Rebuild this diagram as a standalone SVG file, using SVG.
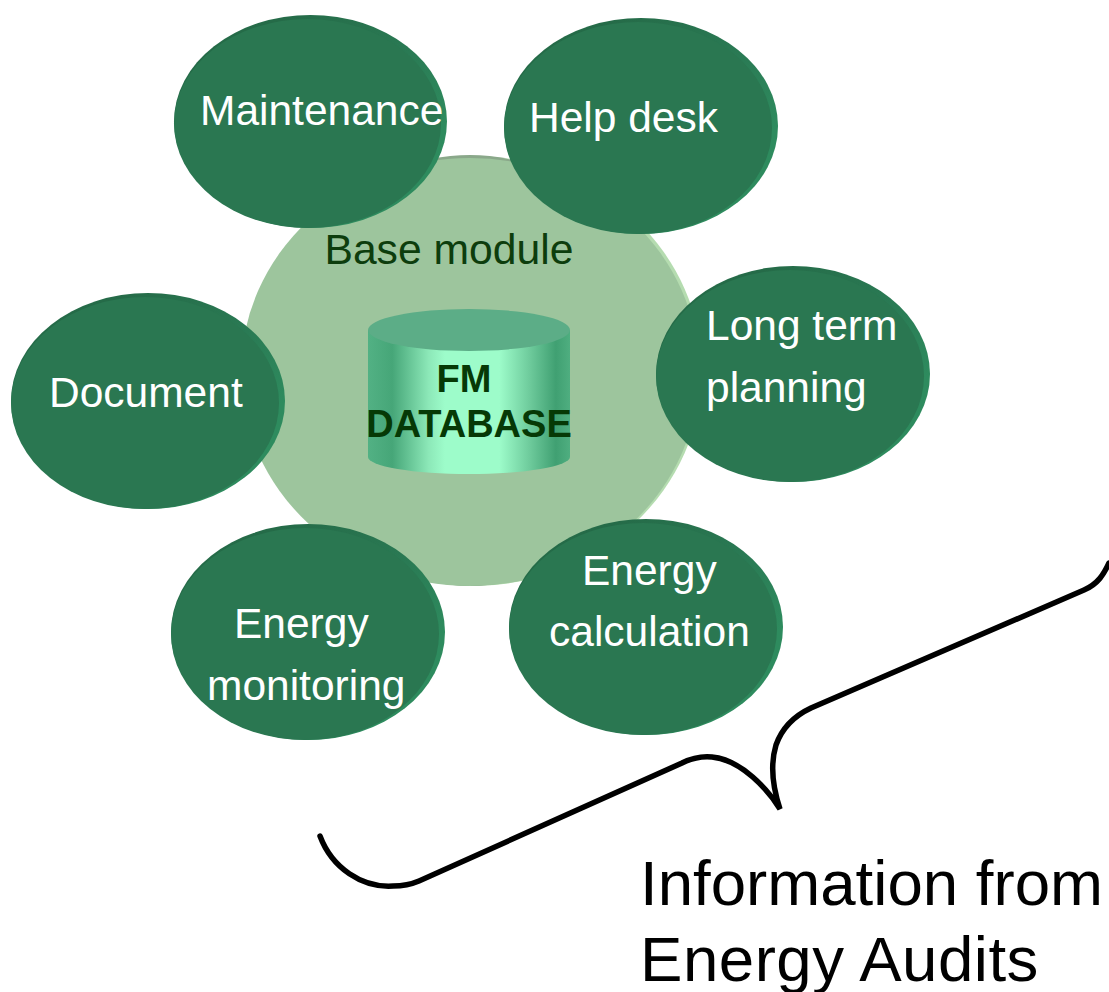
<svg xmlns="http://www.w3.org/2000/svg" width="1109" height="992" viewBox="0 0 1109 992">
<style>
.t{font-family:"Liberation Sans",Arial,sans-serif;font-size:42.500px;fill:#fff}
.rim{fill:url(#rimg)}.face{fill:#2a7751}
.b{font-family:"Liberation Sans",Arial,sans-serif;font-size:38px;font-weight:bold;fill:#063906}
.c{font-family:"Liberation Sans",Arial,sans-serif;font-size:63.600px;fill:#000}
</style>
<defs>
<linearGradient id="cyl" x1="0" x2="1" y1="0" y2="0">
<stop offset="0" stop-color="#52b184"/><stop offset=".12" stop-color="#46a678"/><stop offset=".3" stop-color="#8ce8b8"/><stop offset=".38" stop-color="#9dfcca"/><stop offset=".65" stop-color="#9dfcca"/><stop offset=".8" stop-color="#6ecb9c"/><stop offset=".93" stop-color="#40a072"/><stop offset="1" stop-color="#4fae80"/>
</linearGradient>
<linearGradient id="rimg" x1=".4" y1="0" x2="1" y2=".5">
<stop offset="0" stop-color="#256b48"/><stop offset=".6" stop-color="#2a7a54"/><stop offset="1" stop-color="#2e8b5e"/>
</linearGradient>
</defs>
<g id="base-module">
<ellipse cx="473" cy="371" rx="229" ry="215" fill="#b5dcb0"/>
<ellipse cx="470" cy="370.500" rx="200" ry="215.500" fill="#8aa88a"/>
<ellipse cx="470" cy="372" rx="229" ry="214" fill="#9dc59d"/>
<text x="449" y="264" text-anchor="middle" style="font-family:'Liberation Sans',Arial,sans-serif;font-size:42.700px;fill:#0d3d0d">Base module</text>
</g>
<g id="fm-database">
<path d="M368 330V457A101 17 0 0 0 570 457V330Z" fill="url(#cyl)"/>
<ellipse cx="469" cy="330" rx="101" ry="21" fill="#5cad87"/>
<text class="b" x="464" y="392" text-anchor="middle">FM</text>
<text class="b" x="469" y="437" text-anchor="middle">DATABASE</text>
</g>
<g id="maintenance">
<ellipse class="rim" cx="310.500" cy="121.500" rx="136.500" ry="106.500"/>
<ellipse class="face" cx="307.500" cy="123.500" rx="133.500" ry="104.500"/>
<text class="t" x="200" y="125">Maintenance</text>
</g>
<g id="help-desk">
<ellipse class="rim" cx="641" cy="126" rx="137" ry="108"/>
<ellipse class="face" cx="638" cy="128" rx="134" ry="106"/>
<text class="t" x="529" y="132">Help desk</text>
</g>
<g id="long-term-planning">
<ellipse class="rim" cx="793" cy="374" rx="137" ry="108"/>
<ellipse class="face" cx="790" cy="376" rx="134" ry="106"/>
<text class="t" x="706" y="340">Long term</text>
<text class="t" x="706" y="402">planning</text>
</g>
<g id="document">
<ellipse class="rim" cx="148" cy="401" rx="137" ry="108"/>
<ellipse class="face" cx="145" cy="403" rx="134" ry="106"/>
<text class="t" x="49" y="407">Document</text>
</g>
<g id="energy-monitoring">
<ellipse class="rim" cx="308" cy="632" rx="137" ry="108"/>
<ellipse class="face" cx="305" cy="634" rx="134" ry="106"/>
<text class="t" x="234" y="638">Energy</text>
<text class="t" x="207" y="700">monitoring</text>
</g>
<g id="energy-calculation">
<ellipse class="rim" cx="646" cy="627" rx="137" ry="108"/>
<ellipse class="face" cx="643" cy="629" rx="134" ry="106"/>
<text class="t" x="582" y="585">Energy</text>
<text class="t" x="549" y="646">calculation</text>
</g>
<g id="connectors">
<path d="M320 836C332 868 362 888 393 886C403 886 412 884 419 881L682 763C692 758 702 756 712 757C742 760 768 790 780 809C772 785 770 765 776 745C782 728 794 716 811 708L1084 590C1098 584 1104 574 1109 563" fill="none" stroke="#000" stroke-width="5.500" stroke-linecap="round"/>
</g>
<g id="caption">
<text class="c" x="640" y="905">Information from</text>
<text class="c" x="640" y="981" letter-spacing=".5">Energy Audits</text>
</g>
</svg>
